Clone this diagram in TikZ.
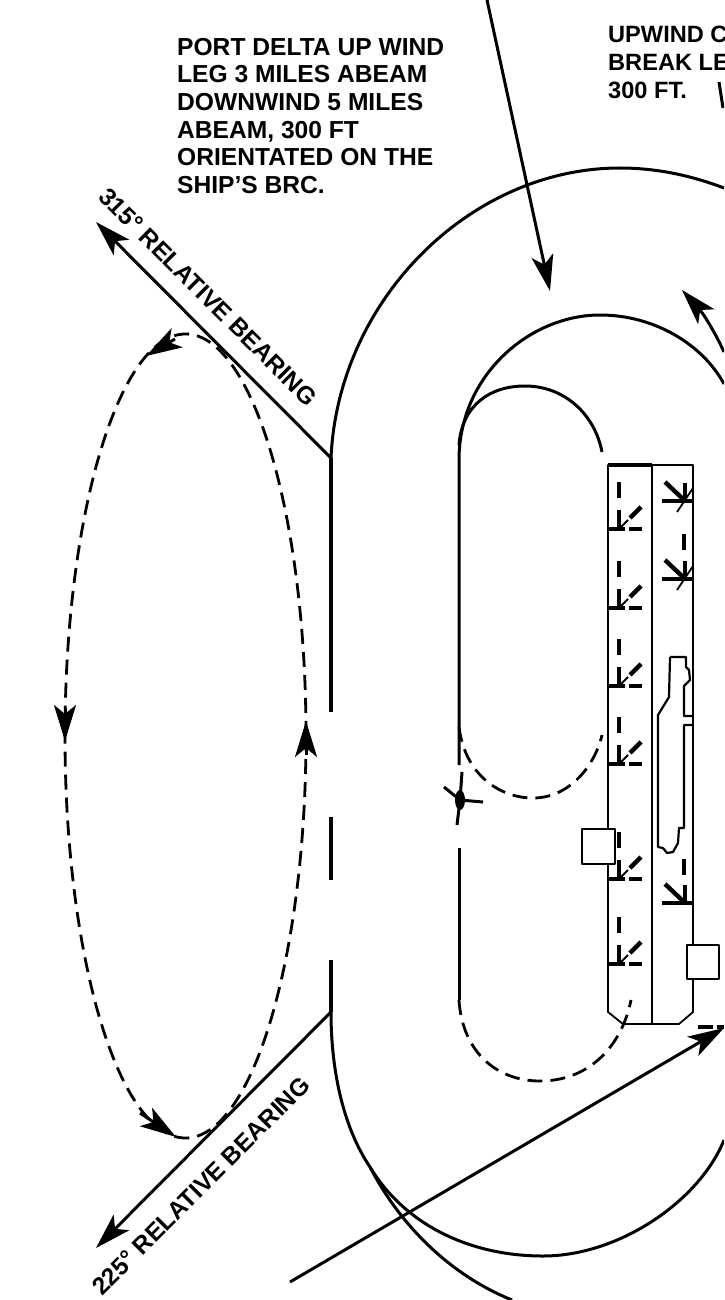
\documentclass[tikz,border=0pt]{standalone}
\usepackage{fontspec}
\setmainfont{Liberation Sans}
\usetikzlibrary{arrows.meta, shapes.geometric}
\tikzset{
  every picture/.style={line join=round},
  heavy/.style={line width=3pt, draw=black},
  thin line/.style={line width=1.8pt, draw=black},
  lane/.style={line width=2.8pt, draw=black, dash pattern=on 15pt off 8pt},
  tipped/.style={heavy, -{Stealth[length=36pt, width=22pt, inset=9pt]}},
  note/.style={font=\bfseries\fontsize{24.6}{27.6}\selectfont, align=left, anchor=north west, inner sep=0pt},
  bearing/.style={font=\bfseries\fontsize{24.5}{25}\selectfont, inner sep=0pt},
  deckbar/.style={line width=4.4pt, draw=black},
  tower/.style={line width=2.2pt, draw=black},
  elevator/.style={line width=2.6pt, draw=black, fill=white},
}
\begin{document}
\begin{tikzpicture}[x=1pt, y=-1pt]
\useasboundingbox (0,0) rectangle (724,1300);
\clip (0,0) rectangle (724,1300);

% ---- Texts
\node[note] (portnote) at (177,38) {PORT DELTA UP WIND\\LEG 3 MILES ABEAM\\DOWNWIND 5 MILES\\ABEAM, 300 FT\\ORIENTATED ON THE\\SHIP'S BRC.};
\node[note, font=\bfseries\fontsize{23.6}{28}\selectfont] (upwindnote) at (608,26) {UPWIND C\\BREAK LE\\300 FT.};
\node[bearing, rotate=-45] (bearingA) at (208,297) {315° RELATIVE BEARING};
\node[bearing, rotate=45] (bearingB) at (201,1186) {225° RELATIVE BEARING};

% ---- Outer pattern
\coordinate (outerA) at (331,458);
\coordinate (outerB) at (331,1012);
\draw[heavy] (outerA) .. controls (338,300) and (470,168) .. (620,168) .. controls (655,168) and (690,175) .. (724,188);
\draw[line width=3.4pt] (outerA) -- (331,712);
\draw[line width=3.4pt] (331,817) -- (331,880);
\draw[line width=3.4pt] (331,960) -- (outerB);
\draw[heavy] (outerB) .. controls (331,1075) and (345,1130) .. (370,1167) .. controls (400,1225) and (450,1275) .. (512,1300);
\draw[heavy] (370,1167) .. controls (405,1225) and (470,1256) .. (543,1256) .. controls (620,1256) and (700,1200) .. (724,1140);

% ---- Relative bearings
\coordinate (tipA) at (96,222);
\coordinate (tipB) at (96,1248);
\draw[tipped] (outerA) -- (tipA);
\draw[tipped] (outerB) -- (tipB);

% ---- Port delta
\coordinate (delta) at (185.5,736);
\draw[lane] (delta) ellipse [x radius=120.5, y radius=402];
\coordinate (deltaL) at (65,708);
\coordinate (deltaLtip) at (65,741);
\coordinate (deltaR) at (306,755);
\coordinate (deltaRtip) at (306,721);
\draw[tipped] (deltaL) -- (deltaLtip);
\draw[tipped] (deltaR) -- (deltaRtip);
\coordinate (deltaT) at (175,339);
\coordinate (deltaTtip) at (146,356);
\draw[tipped] (deltaT) -- (deltaTtip);
\coordinate (deltaB) at (140,1113);
\coordinate (deltaBtip) at (176,1137);
\draw[tipped] (deltaB) -- (deltaBtip);

% ---- Inbound arrows
\coordinate (topA) at (487,0);
\coordinate (topAtip) at (550,291);
\draw[tipped] (topA) -- (topAtip);
\coordinate (breakA) at (724,352);
\coordinate (breakAtip) at (682,290);
\draw[tipped] (breakA) .. controls (714,330) and (702,312) .. (breakAtip);
\coordinate (entry) at (290,1282);
\coordinate (entrytip) at (724,1028);
\draw[tipped] (entry) -- (entrytip);
\draw[deckbar] (698,1027) -- (713,1027);
\draw[deckbar] (717,1027) -- (724,1027);
\draw[heavy] (719,82) -- (723,108);

% ---- Inner pattern
\draw[heavy] (459,765) -- (459,460) .. controls (459,375) and (530,315) .. (600,315) .. controls (655,315) and (703,345) .. (724,384);
\draw[heavy] (459,445) .. controls (462,405) and (490,386) .. (525,386) .. controls (565,386) and (595,415) .. (602,452);
\draw[heavy] (459,848) -- (459,1000);
\draw[lane] (459,727) .. controls (465,775) and (500,798) .. (533,798) .. controls (570,798) and (595,765) .. (602,735);
\draw[lane] (459,1000) .. controls (462,1050) and (495,1081) .. (540,1081) .. controls (590,1081) and (622,1045) .. (631,1000);

% ---- Helicopter
\node[ellipse, fill=black, minimum width=10pt, minimum height=20pt, inner sep=0pt] (helo) at (460,800) {};
\draw[heavy] (helo.center) -- (462,772);
\draw[heavy] (helo.center) -- (457,825);
\draw[heavy] (helo.center) -- (444,787);
\draw[heavy] (helo.center) -- (483,802);

% ---- Ship
\draw[thin line] (608,465) -- (693,465) -- (693,1012) -- (679,1024) -- (623,1024) -- (608,1012) -- cycle;
\draw[thin line] (652,465) -- (652,1024);
\draw[deckbar] (608,465) -- (652,465);
\draw[line width=2.8pt] (693,465) -- (693,1012);
\foreach \y in {529,608,686,764,879,964} {
  \draw[deckbar] (608,\y) -- (625,\y);
  \draw[deckbar] (629,\y) -- (642,\y);
  \draw[deckbar] (619,\y) -- (619,\y-19);
  \draw[deckbar] (619,\y-31) -- (619,\y-47);
  \draw[thin line] (620,\y-1) -- (628,\y-9);
  \draw[deckbar] (630,\y-11) -- (641,\y-22);
}
\foreach \y in {501,579,903} {
  \draw[deckbar] (662,\y) -- (693,\y);
  \draw[deckbar] (685,\y) -- (685,\y-18);
  \draw[deckbar] (665,\y-19) -- (683,\y-2);
}
\foreach \y in {501,579} {
  \draw[thin line] (693,\y-13) -- (677,\y+11);
}
\draw[deckbar] (684,534) -- (684,550);
\draw[deckbar] (684,859) -- (684,875);
\draw[tower] (670,657) -- (686,657) -- (686,667) -- (689,670) -- (690,680) -- (684,686) -- (684,716) -- (692,716);
\draw[tower] (692,725) -- (684,725) -- (684,828) -- (679,828) -- (678,843) -- (673,852) -- (667,853) -- (663,848) -- (658,847) -- (658,715) -- (669,697) -- (670,657);
\node[elevator, inner sep=0pt, minimum width=33pt, minimum height=35pt] (elevatorA) at (598.5,846.5) {};
\node[elevator, inner sep=0pt, minimum width=32pt, minimum height=34pt] (elevatorB) at (703,962) {};
\end{tikzpicture}
\end{document}
